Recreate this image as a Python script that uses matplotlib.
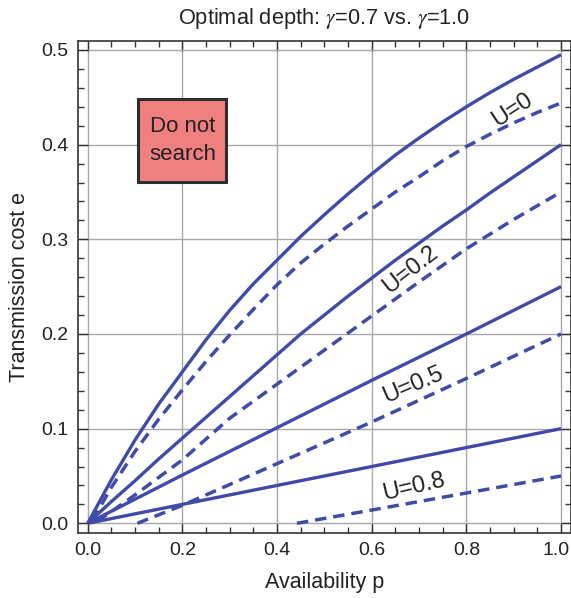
import matplotlib
matplotlib.use("Agg")
import matplotlib.pyplot as plt
from matplotlib.patches import Rectangle
from matplotlib.transforms import ScaledTranslation

plt.rcParams['font.family'] = ['Liberation Sans', 'DejaVu Sans']
plt.rcParams['mathtext.fontset'] = 'stix'

# ---- data ----
p_solid_u0 = [0, 0.05, 0.1, 0.15, 0.2, 0.25, 0.3, 0.35, 0.4, 0.45, 0.5, 0.55, 0.6, 0.65, 0.7, 0.75, 0.8, 0.85, 0.9, 0.95, 1.0]
e_solid_u0 = [0, 0.046, 0.088, 0.126, 0.160, 0.194, 0.225, 0.253, 0.278, 0.303, 0.326, 0.348, 0.369, 0.389, 0.407, 0.424, 0.440, 0.455, 0.469, 0.482, 0.495]
p_dash_u0 = [0.01, 0.05, 0.1, 0.15, 0.2, 0.25, 0.3, 0.35, 0.4, 0.45, 0.5, 0.55, 0.6, 0.65, 0.7, 0.75, 0.8, 0.85, 0.9, 0.95, 1.0]
e_dash_u0 = [0.003, 0.038, 0.076, 0.110, 0.141, 0.171, 0.199, 0.226, 0.252, 0.275, 0.295, 0.314, 0.332, 0.350, 0.366, 0.383, 0.398, 0.411, 0.423, 0.434, 0.444]

p_solid_u02 = [0, 0.05, 0.1, 0.15, 0.2, 0.25, 0.3, 0.35, 0.4, 0.45, 0.5, 0.55, 0.6, 0.65, 0.7, 0.75, 0.8, 0.85, 0.9, 0.95, 1.0]
e_solid_u02 = [0, 0.023, 0.045, 0.068, 0.090, 0.112, 0.134, 0.156, 0.178, 0.200, 0.220, 0.240, 0.259, 0.278, 0.296, 0.314, 0.331, 0.349, 0.366, 0.383, 0.400]
p_dash_u02 = [0.02, 0.1, 0.2, 0.3, 0.4, 0.5, 0.6, 0.7, 0.8, 0.9, 1.0]
e_dash_u02 = [0.002, 0.030, 0.067, 0.111, 0.147, 0.183, 0.219, 0.255, 0.290, 0.321, 0.350]

p_solid_u05 = [0, 0.2, 0.4, 0.6, 0.8, 1.0]
e_solid_u05 = [0, 0.051, 0.101, 0.151, 0.200, 0.250]
p_dash_u05 = [0.105, 0.2, 0.4, 0.6, 0.8, 1.0]
e_dash_u05 = [0.0, 0.019, 0.063, 0.107, 0.153, 0.200]

p_solid_u08 = [0, 0.2, 0.4, 0.6, 0.8, 1.0]
e_solid_u08 = [0, 0.020, 0.040, 0.060, 0.080, 0.100]
p_dash_u08 = [0.442, 0.6, 0.8, 1.0]
e_dash_u08 = [0.0, 0.014, 0.032, 0.050]

curve_labels = ["U=0", "U=0.2", "U=0.5", "U=0.8"]
x_ticks = [0.0, 0.2, 0.4, 0.6, 0.8, 1.0]
y_ticks = [0.0, 0.1, 0.2, 0.3, 0.4, 0.5]

color = '#3F4BA6'

fig = plt.figure(figsize=(5.71, 5.98), dpi=100)
ax = fig.add_axes([78.3 / 571, 1 - 532.5 / 598, (570.5 - 78.3) / 571, (532.5 - 40.7) / 598])

solid = [(p_solid_u0, e_solid_u0), (p_solid_u02, e_solid_u02),
         (p_solid_u05, e_solid_u05), (p_solid_u08, e_solid_u08)]
dashed = [(p_dash_u0, e_dash_u0), (p_dash_u02, e_dash_u02),
          (p_dash_u05, e_dash_u05), (p_dash_u08, e_dash_u08)]
for px, ey in solid:
    ax.plot(px, ey, color=color, lw=2.4, solid_capstyle='butt', solid_joinstyle='round', zorder=3)
for px, ey in dashed:
    ax.plot(px, ey, color=color, lw=2.5, dashes=(3.3, 2.0), dash_capstyle='butt', zorder=3)

label_pos = [(0.898, 0.437, 33), (0.683, 0.268, 38), (0.688, 0.146, 23), (0.688, 0.038, 13)]
for lab, (x, y, r) in zip(curve_labels, label_pos):
    ax.text(x, y, lab, rotation=r, ha='center', va='center', fontsize=17,
            color='#222222', rotation_mode='anchor', zorder=4)

ax.add_patch(Rectangle((0.106, 0.361), 0.187, 0.087, facecolor='#F08080',
                       edgecolor='#2E2E2E', lw=2.2, zorder=5))
ax.text(0.2, 0.4045, "Do not\nsearch", ha='center', va='center', fontsize=16,
        color='#222222', linespacing=1.45, zorder=6)

ax.set_xlim(-0.0199, 1.020)
ax.set_ylim(-0.0097, 0.5098)
ax.set_xticks(x_ticks)
ax.set_yticks(y_ticks)
ax.set_xticklabels([f"{t:.1f}" for t in x_ticks])
ax.set_yticklabels([f"{t:.1f}" for t in y_ticks])
ax.set_xticks([i * 0.05 for i in range(21)], minor=True)
ax.set_yticks([i * 0.02 for i in range(26)], minor=True)
ax.tick_params(which='both', direction='in', top=True, right=True, colors='#333333',
               labelcolor='#222222', labelsize=14)
ax.tick_params(which='major', length=7, width=1, pad=7)
ax.tick_params(which='minor', length=4, width=1)
ax.grid(True, which='major', color='#A8A8A8', lw=1, zorder=1)
for s in ax.spines.values():
    s.set_color('#333333')
    s.set_linewidth(1.2)

# keep the last x tick label inside the figure edge
last = ax.get_xticklabels()[-1]
last.set_horizontalalignment('right')
last.set_transform(last.get_transform() + ScaledTranslation(9 / 100, 0, fig.dpi_scale_trans))

ax.set_xlabel("Availability p", fontsize=15.5, color='#222222', labelpad=9)
ax.set_ylabel("Transmission cost e", fontsize=15.5, color='#222222', labelpad=8)
ax.set_title(r"Optimal depth: $\gamma$=0.7 vs. $\gamma$=1.0", fontsize=15.7, color='#222222', pad=12)

fig.savefig("out.png", dpi=100)
